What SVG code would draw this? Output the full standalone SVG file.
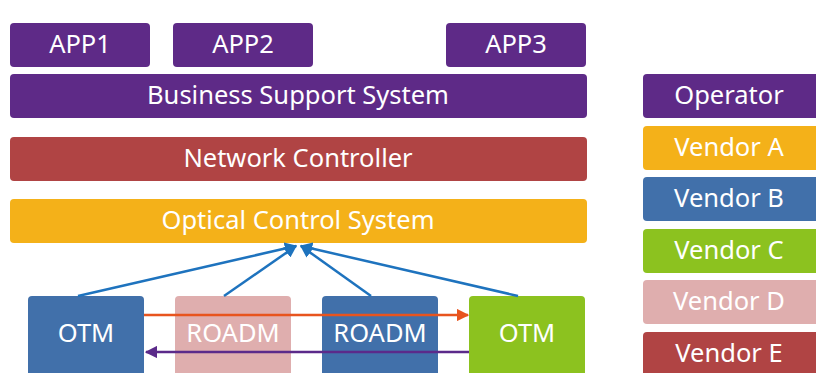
<svg xmlns="http://www.w3.org/2000/svg" width="816" height="373" viewBox="0 0 816 373">
<defs>
<style>
.t{font-family:"Noto Sans","Open Sans","Liberation Sans",sans-serif;font-size:25.5px;fill:#fff;text-anchor:middle;dominant-baseline:central}
.op{fill:#5E2A87}.va{fill:#F4B119}.vb{fill:#4170AA}.vc{fill:#8CC21F}.vd{fill:#DFAEAE}.ve{fill:#B04444}
.bl{stroke:#1E73BE;stroke-width:2.5;fill:none;marker-end:url(#ab)}
</style>
<marker id="ab" viewBox="0 0 10 10" refX="9" refY="5" markerWidth="5" markerHeight="5" orient="auto" markerUnits="strokeWidth"><path d="M0,0L10,5L0,10z" fill="#1E73BE"/></marker>
<marker id="ao" viewBox="0 0 10 10" refX="9" refY="5" markerWidth="5" markerHeight="5" orient="auto" markerUnits="strokeWidth"><path d="M0,0L10,5L0,10z" fill="#E8541E"/></marker>
<marker id="ap" viewBox="0 0 10 10" refX="9" refY="5" markerWidth="5" markerHeight="5" orient="auto" markerUnits="strokeWidth"><path d="M0,0L10,5L0,10z" fill="#5B2A8A"/></marker>
</defs>
<rect width="816" height="373" fill="#fff"/>
<g id="app1"><rect class="op" x="10" y="23" width="140" height="44" rx="4"/><text class="t" x="80" y="43">APP1</text></g>
<g id="app2"><rect class="op" x="173" y="23" width="140" height="44" rx="4"/><text class="t" x="243" y="43">APP2</text></g>
<g id="app3"><rect class="op" x="446" y="23" width="140" height="44" rx="4"/><text class="t" x="516" y="43">APP3</text></g>
<g id="bss"><rect class="op" x="10" y="74" width="577" height="44" rx="4"/><text class="t" x="298" y="94">Business Support System</text></g>
<g id="nc"><rect class="ve" x="10" y="137" width="577" height="44" rx="4"/><text class="t" x="298" y="157">Network Controller</text></g>
<g id="ocs"><rect class="va" x="10" y="199" width="577" height="44" rx="4"/><text class="t" x="298" y="219">Optical Control System</text></g>
<g id="otm1"><rect class="vb" x="28" y="296" width="116" height="90" rx="4"/><text class="t" x="86" y="332">OTM</text></g>
<g id="roadm1"><rect class="vd" x="175" y="296" width="116" height="90" rx="4"/><text class="t" x="233" y="332">ROADM</text></g>
<g id="roadm2"><rect class="vb" x="322" y="296" width="116" height="90" rx="4"/><text class="t" x="380" y="332">ROADM</text></g>
<g id="otm2"><rect class="vc" x="469" y="296" width="116" height="90" rx="4"/><text class="t" x="527" y="332">OTM</text></g>
<g id="connectors">
<line class="bl" x1="78" y1="296" x2="296" y2="246"/>
<line class="bl" x1="224" y1="296" x2="296" y2="246"/>
<line class="bl" x1="371" y1="296" x2="301" y2="246"/>
<line class="bl" x1="518" y1="296" x2="301" y2="246"/>
<line x1="144" y1="315" x2="468" y2="315" stroke="#E8541E" stroke-width="2.5" marker-end="url(#ao)"/>
<line x1="469" y1="352" x2="146" y2="352" stroke="#5B2A8A" stroke-width="2.5" marker-end="url(#ap)"/>
</g>
<g id="operator"><rect class="op" x="643" y="74" width="180" height="44" rx="4"/><text class="t" x="729" y="94">Operator</text></g>
<g id="vendorA"><rect class="va" x="643" y="126" width="180" height="44" rx="4"/><text class="t" x="729" y="146">Vendor A</text></g>
<g id="vendorB"><rect class="vb" x="643" y="177" width="180" height="44" rx="4"/><text class="t" x="729" y="197">Vendor B</text></g>
<g id="vendorC"><rect class="vc" x="643" y="229" width="180" height="44" rx="4"/><text class="t" x="729" y="249">Vendor C</text></g>
<g id="vendorD"><rect class="vd" x="643" y="280" width="180" height="44" rx="4"/><text class="t" x="729" y="300">Vendor D</text></g>
<g id="vendorE"><rect class="ve" x="643" y="332" width="180" height="44" rx="4"/><text class="t" x="729" y="352">Vendor E</text></g>
</svg>
